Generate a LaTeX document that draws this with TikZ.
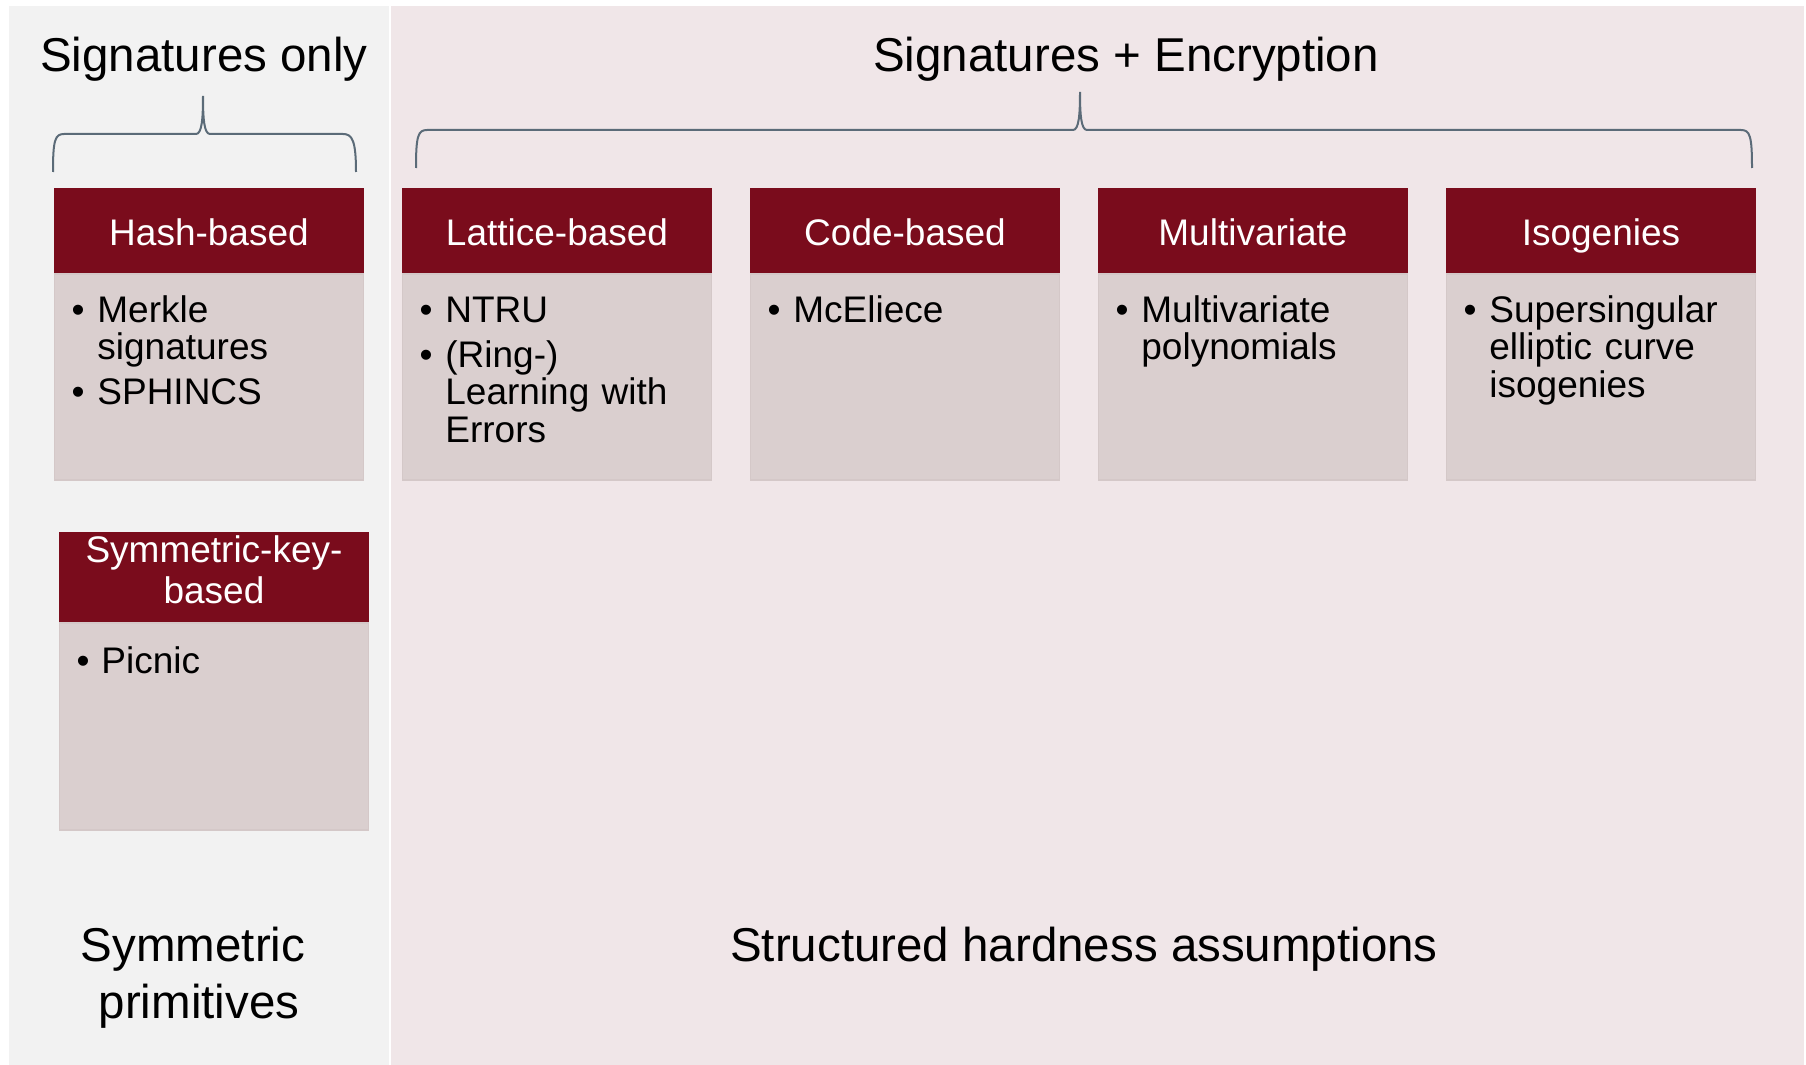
\documentclass[tikz,border=0pt]{standalone}
\usepackage{fontspec}
\setmainfont{Liberation Sans}
\definecolor{hdr}{HTML}{7A0C1C}
\definecolor{bodyc}{HTML}{DACFCF}
\definecolor{bodyedge}{HTML}{D4C8C8}
\definecolor{greyp}{HTML}{F2F2F2}
\definecolor{pinkp}{HTML}{F0E6E8}
\definecolor{bracec}{HTML}{5B6B78}
\newcommand\itmfont{\fontsize{18.5}{18.75}\selectfont}
\newcommand\ttlfont{\fontsize{23.75}{28.75}\selectfont}
\begin{document}
\begin{tikzpicture}[x=0.5pt,y=-0.5pt,
  panel/.style={draw=none, inner sep=0, anchor=north west},
  hdrbox/.style={fill=hdr, text=white, minimum width=155pt, minimum height=42.5pt,
    inner sep=0, font=\fontsize{18.5}{20.5}\selectfont, text height=15pt, text depth=0.5pt},
  bodybox/.style={fill=bodyc, draw=bodyedge, line width=0.6pt, minimum width=154.4pt,
    inner sep=0, anchor=north},
  bul/.style={anchor=base, inner sep=0, font=\itmfont},
  itm/.style={anchor=base west, inner sep=0, text width=150pt, align=left, font=\itmfont},
  ttl/.style={inner sep=0, anchor=base, font=\ttlfont},
  bracecurve/.style={draw=bracec, line width=1pt}
]
\useasboundingbox (0,0) rectangle (1806,1065);
\fill[white] (0,0) rectangle (1806,1065);

% panels
\node[panel, fill=greyp, minimum width=190pt, minimum height=529.5pt] (leftpanel) at (9,6) {};
\node[panel, fill=pinkp, minimum width=706.5pt, minimum height=529.5pt] (rightpanel) at (391,6) {};

% titles
\node[ttl] (sigonly) at (204,72) {Signatures only};
\node[ttl] (sigenc) at (1126,72) {Signatures + Encryption};

% braces
\draw[bracecurve] (53,172) .. controls (53,140) and (55,134) .. (64,134) -- (196,134)
  .. controls (202,134) and (203,118) .. (203,96)
  .. controls (203,118) and (204,134) .. (210,134) -- (343,134)
  .. controls (352,134) and (356,140) .. (356,172);
\draw[bracecurve] (416,168) .. controls (416,136) and (418,130) .. (427,130) -- (1073,130)
  .. controls (1079,130) and (1080,114) .. (1080,92)
  .. controls (1080,114) and (1081,130) .. (1087,130) -- (1741,130)
  .. controls (1750,130) and (1752,136) .. (1752,168);

% top row boxes
\node[hdrbox] (hash) at (209,230.5) {Hash-based};
\node[bodybox, minimum height=103pt] (hashbody) at (hash.south) {};
\node[hdrbox] (lattice) at (557,230.5) {Lattice-based};
\node[bodybox, minimum height=103pt] (latticebody) at (lattice.south) {};
\node[hdrbox] (code) at (905,230.5) {Code-based};
\node[bodybox, minimum height=103pt] (codebody) at (code.south) {};
\node[hdrbox] (multi) at (1253,230.5) {Multivariate};
\node[bodybox, minimum height=103pt] (multibody) at (multi.south) {};
\node[hdrbox] (iso) at (1601,230.5) {Isogenies};
\node[bodybox, minimum height=103pt] (isobody) at (iso.south) {};

% symmetric-key box
\node[hdrbox, minimum height=45pt, text width=150pt, align=center, text height=15pt, text depth=30pt] (symkey) at (214,577) {Symmetric-key-\\based};
\node[bodybox, minimum height=103.5pt] (symkeybody) at (symkey.south) {};

% items
\node[bul] (hb1) at (78,322) {•};
\node[itm] (hi1) at (97,322) {Merkle\\signatures};
\node[bul] (hb2) at (78,404.5) {•};
\node[itm] (hi2) at (97,404.5) {SPHINCS};

\node[bul] (lb1) at (426,322) {•};
\node[itm] (li1) at (445,322) {NTRU};
\node[bul] (lb2) at (426,367) {•};
\node[itm] (li2) at (445,367) {(Ring-)\\Learning with\\Errors};

\node[bul] (cb1) at (774,322) {•};
\node[itm] (ci1) at (793,322) {McEliece};

\node[bul] (mb1) at (1122,322) {•};
\node[itm] (mi1) at (1141,322) {Multivariate\\polynomials};

\node[bul] (ib1) at (1470,322) {•};
\node[itm] (ii1) at (1489,322) {Supersingular\\elliptic curve\\isogenies};

\node[bul] (sb1) at (83,673) {•};
\node[itm] (si1) at (101,673) {Picnic};

% bottom labels
\node[ttl, text width=180pt, align=center] (symprim) at (199,961) {Symmetric\kern6pt\\primitives};
\node[ttl] (structured) at (1084,961) {Structured hardness assumptions};
\end{tikzpicture}
\end{document}
